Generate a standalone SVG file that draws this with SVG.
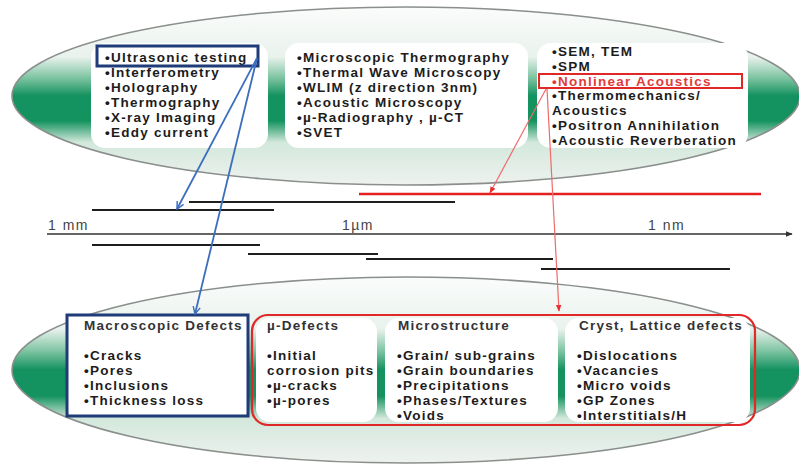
<svg xmlns="http://www.w3.org/2000/svg" width="799" height="468" viewBox="0 0 799 468">
<defs>
<linearGradient id="band" x1="0" y1="0" x2="0" y2="1">
<stop offset="0" stop-color="#fbfcfb"/>
<stop offset="0.28" stop-color="#e9f2ed"/>
<stop offset="0.4" stop-color="#7cc3a0"/>
<stop offset="0.5" stop-color="#13915f"/>
<stop offset="0.64" stop-color="#15935f"/>
<stop offset="0.76" stop-color="#d3e8dc"/>
<stop offset="1" stop-color="#eef2ef"/>
</linearGradient>
<marker id="blueArrow" viewBox="0 0 10 10" refX="9" refY="5" markerWidth="9" markerHeight="9" orient="auto" markerUnits="userSpaceOnUse">
<path d="M1,1 L9,5 L1,9" fill="none" stroke="#3b6fbd" stroke-width="1.6"/>
</marker>
<marker id="redArrow" viewBox="0 0 10 10" refX="9" refY="5" markerWidth="7" markerHeight="7" orient="auto" markerUnits="userSpaceOnUse">
<path d="M0,1 L10,5 L0,9 Z" fill="#e83030"/>
</marker>
<marker id="axisArrow" viewBox="0 0 10 10" refX="9" refY="5" markerWidth="7" markerHeight="7" orient="auto" markerUnits="userSpaceOnUse">
<path d="M0,1 L10,5 L0,9 Z" fill="#333"/>
</marker>
</defs>
<style>
.ell{fill:url(#band);stroke:#8a8f8c;stroke-width:1.6}
.box{fill:#ffffff;stroke:none}
.t{font-family:"Liberation Sans",Arial,sans-serif;font-weight:bold;font-size:13.5px;letter-spacing:1.25px;fill:#1c1c1c}
.h{font-family:"Liberation Sans",Arial,sans-serif;font-weight:bold;font-size:13.5px;letter-spacing:1.25px;fill:#333}
.red{fill:#e23a3a}
.ax{font-family:"Liberation Sans",Arial,sans-serif;font-size:14px;letter-spacing:1.5px;fill:#444}
.bar{stroke:#1e1e1e;stroke-width:2.2}
.conn-b{stroke:#3b6fbd;stroke-width:1.8;fill:none}
.conn-r{stroke:#f06a6a;stroke-width:1.2;fill:none}
</style>

<g id="top-ellipse">
<ellipse class="ell" cx="406" cy="96" rx="394" ry="89"/>
</g>
<g id="bottom-ellipse">
<ellipse class="ell" cx="406" cy="370" rx="394" ry="93"/>
</g>

<g id="macro-methods">
<rect class="box" x="91" y="43" width="177" height="105" rx="14"/>
<text class="t" x="105" y="62">•Ultrasonic testing</text>
<text class="t" x="105" y="77">•Interferometry</text>
<text class="t" x="105" y="92">•Holography</text>
<text class="t" x="105" y="107">•Thermography</text>
<text class="t" x="105" y="122">•X-ray Imaging</text>
<text class="t" x="105" y="137">•Eddy current</text>
<rect x="97" y="46" width="161" height="20" fill="none" stroke="#1f3b78" stroke-width="3"/>
</g>

<g id="micro-methods">
<rect class="box" x="285" y="43" width="243" height="105" rx="14"/>
<text class="t" x="297" y="62">•Microscopic Thermography</text>
<text class="t" x="297" y="77">•Thermal Wave Microscopy</text>
<text class="t" x="297" y="92">•WLIM (z direction 3nm)</text>
<text class="t" x="297" y="107">•Acoustic Microscopy</text>
<text class="t" x="297" y="122">•µ-Radiography , µ-CT</text>
<text class="t" x="297" y="137">•SVET</text>
</g>

<g id="nano-methods">
<rect class="box" x="537" y="43" width="211" height="105" rx="14"/>
<text class="t" x="552" y="56">•SEM, TEM</text>
<text class="t" x="552" y="71">•SPM</text>
<text class="t red" x="552" y="86">•Nonlinear Acoustics</text>
<text class="t" x="552" y="100">•Thermomechanics/</text>
<text class="t" x="552" y="115">Acoustics</text>
<text class="t" x="552" y="130">•Positron Annihilation</text>
<text class="t" x="552" y="145">•Acoustic Reverberation</text>
<rect x="539" y="74" width="203" height="14" fill="none" stroke="#e02828" stroke-width="2"/>
</g>

<g id="scale">
<line x1="47" y1="234" x2="792" y2="234" stroke="#333" stroke-width="1.6" marker-end="url(#axisArrow)"/>
<text class="ax" x="48" y="230">1 mm</text>
<text class="ax" x="342" y="230">1µm</text>
<text class="ax" x="648" y="230">1 nm</text>
<line x1="359" y1="194" x2="761" y2="194" stroke="#e42020" stroke-width="2.4"/>
<line class="bar" x1="189" y1="202" x2="455" y2="202"/>
<line class="bar" x1="92" y1="210" x2="274" y2="210"/>
<line class="bar" x1="92" y1="245" x2="260" y2="245"/>
<line class="bar" x1="248" y1="254" x2="378" y2="254"/>
<line class="bar" x1="366" y1="259" x2="553" y2="259"/>
<line class="bar" x1="541" y1="269" x2="730" y2="269"/>
</g>

<g id="macro-defects">
<rect class="box" x="67" y="315" width="181" height="101" rx="6"/>
<text class="h" x="84" y="330">Macroscopic Defects</text>
<text class="t" x="84" y="360">•Cracks</text>
<text class="t" x="84" y="375">•Pores</text>
<text class="t" x="84" y="390">•Inclusions</text>
<text class="t" x="84" y="405">•Thickness loss</text>
<rect x="67" y="315" width="181" height="101" fill="none" stroke="#1f3b78" stroke-width="3"/>
</g>

<g id="micro-defects">
<rect class="box" x="256" y="318" width="121" height="104" rx="14"/>
<text class="h" x="267" y="330">µ-Defects</text>
<text class="t" x="267" y="360">•Initial</text>
<text class="t" x="267" y="375">corrosion pits</text>
<text class="t" x="267" y="390">•µ-cracks</text>
<text class="t" x="267" y="405">•µ-pores</text>
</g>

<g id="microstructure">
<rect class="box" x="385" y="318" width="173" height="104" rx="14"/>
<text class="h" x="398" y="330">Microstructure</text>
<text class="t" x="397" y="360">•Grain/ sub-grains</text>
<text class="t" x="397" y="375">•Grain boundaries</text>
<text class="t" x="397" y="390">•Precipitations</text>
<text class="t" x="397" y="405">•Phases/Textures</text>
<text class="t" x="397" y="420">•Voids</text>
</g>

<g id="lattice-defects">
<rect class="box" x="565" y="318" width="185" height="104" rx="14"/>
<text class="h" x="579" y="330">Cryst, Lattice defects</text>
<text class="t" x="577" y="360">•Dislocations</text>
<text class="t" x="577" y="375">•Vacancies</text>
<text class="t" x="577" y="390">•Micro voids</text>
<text class="t" x="577" y="405">•GP Zones</text>
<text class="t" x="577" y="420">•Interstitials/H</text>
</g>

<g id="red-group">
<rect x="252" y="315" width="503" height="110" rx="16" fill="none" stroke="#e02828" stroke-width="2.2"/>
</g>

<g id="connectors">
<line class="conn-b" x1="257" y1="58" x2="177" y2="209" marker-end="url(#blueArrow)"/>
<line class="conn-b" x1="257" y1="58" x2="195" y2="314" marker-end="url(#blueArrow)"/>
<line class="conn-r" x1="546" y1="89" x2="490" y2="193" marker-end="url(#redArrow)"/>
<line class="conn-r" x1="547" y1="89" x2="559" y2="311" marker-end="url(#redArrow)"/>
</g>
</svg>
